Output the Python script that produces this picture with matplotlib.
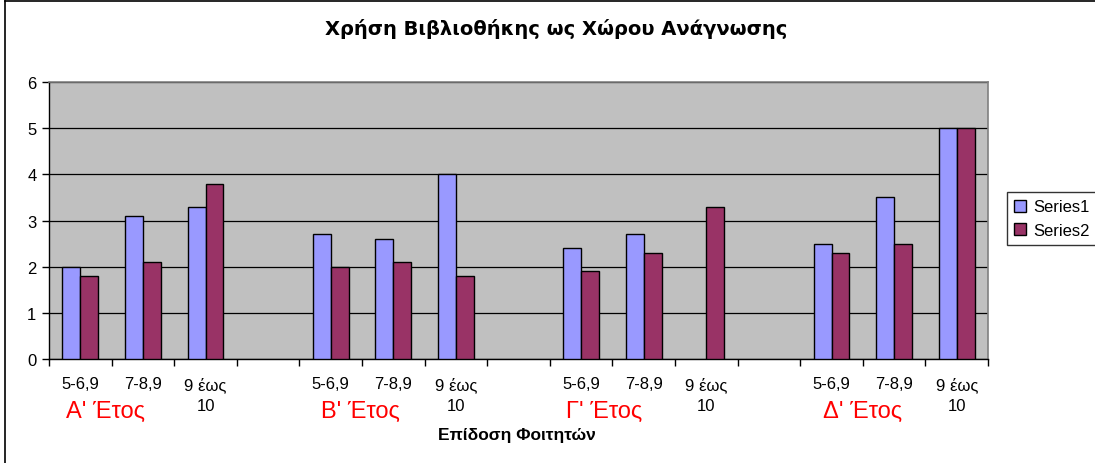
import numpy as np
import matplotlib
matplotlib.use("Agg")
import matplotlib.pyplot as plt
from matplotlib.lines import Line2D

# ── data ──────────────────────────────────────────────────────────────
categories = ["5-6,9", "7-8,9", "9 έως\n10", "",
              "5-6,9", "7-8,9", "9 έως\n10", "",
              "5-6,9", "7-8,9", "9 έως\n10", "",
              "5-6,9", "7-8,9", "9 έως\n10"]
series1 = [2.0, 3.1, 3.3, None,
           2.7, 2.6, 4.0, None,
           2.4, 2.7, None, None,
           2.5, 3.5, 5.0]
series2 = [1.8, 2.1, 3.8, None,
           2.0, 2.1, 1.8, None,
           1.9, 2.3, 3.3, None,
           2.3, 2.5, 5.0]
year_labels = ["Α' Έτος", "Β' Έτος", "Γ' Έτος", "Δ' Έτος"]
series_names = ["Series1", "Series2"]
title = "Χρήση Βιβλιοθήκης ως Χώρου Ανάγνωσης"
xlabel = "Επίδοση Φοιτητών"

# ── style ─────────────────────────────────────────────────────────────
COL1 = "#9999FF"
COL2 = "#993366"
BG = "#C0C0C0"
FONT = ["Liberation Sans", "DejaVu Sans"]
W, H = 1095, 464
FS = 12

s1 = np.array([np.nan if v is None else v for v in series1])
s2 = np.array([np.nan if v is None else v for v in series2])
x = np.arange(len(categories))
bw = 0.285

fig = plt.figure(figsize=(W / 100, H / 100), dpi=100)
ax = fig.add_axes([49 / W, 1 - 360 / H, (988 - 49) / W, (360 - 83) / H])
ax.set_facecolor(BG)

ax.bar(x - bw / 2, s1, bw, color=COL1, edgecolor="black", linewidth=1.0, zorder=3)
ax.bar(x + bw / 2, s2, bw, color=COL2, edgecolor="black", linewidth=1.0, zorder=3)

ax.set_xlim(-0.5, len(categories) - 0.5)
ax.set_ylim(0, 6)
ax.set_yticks(range(7))
ax.yaxis.grid(True, color="black", linewidth=0.9, zorder=1)
ax.set_axisbelow(True)

# tick marks between categories, labels at centres
ax.set_xticks(np.arange(len(categories) + 1) - 0.5)
ax.set_xticklabels([])
ax.set_xticks(x, minor=True)
ax.set_xticklabels(categories, minor=True, fontsize=FS, family=FONT)
for lab in ax.get_xticklabels(minor=True):
    lab.set_linespacing(1.5)
ax.tick_params(axis="x", which="major", direction="out", length=5, width=1)
ax.tick_params(axis="x", which="minor", length=0, pad=12.5)
ax.tick_params(axis="y", direction="out", length=5, width=1, pad=4)
for lab in ax.get_yticklabels():
    lab.set_fontsize(FS)
    lab.set_family(FONT)

for side in ("top", "right"):
    ax.spines[side].set_color("#808080")
    ax.spines[side].set_linewidth(1.2)
for side in ("left", "bottom"):
    ax.spines[side].set_color("black")
    ax.spines[side].set_linewidth(1.0)

# year labels under each group
label_offsets = [0.40, 0.47, 0.37, 0.49]
for i, (lbl, off) in enumerate(zip(year_labels, label_offsets)):
    ax.text(i * 4 + off, -1.13, lbl, color="red", fontsize=17, family=FONT,
            ha="center", va="center", clip_on=False)

fig.text(556 / W, 1 - 29 / H, title, fontsize=14, fontweight="bold",
         family="DejaVu Sans", ha="center", va="center")
fig.text(517 / W, 1 - 436 / H, xlabel, fontsize=12.5, fontweight="bold",
         family=FONT, ha="center", va="center")

handles = [Line2D([], [], marker="s", linestyle="", markersize=8,
                  markerfacecolor=c, markeredgecolor="black")
           for c in (COL1, COL2)]
leg = fig.legend(handles, series_names, loc="upper left",
                 bbox_to_anchor=(1007 / W, 1 - 193 / H), fancybox=False,
                 frameon=True, prop={"family": FONT, "size": FS},
                 handlelength=0.7, handletextpad=0.4, borderpad=0.45,
                 labelspacing=0.5, borderaxespad=0)
leg.get_frame().set_edgecolor("black")
leg.get_frame().set_linewidth(1.0)

# outer chart frame (left and top edges visible)
fig.add_artist(Line2D([5 / W, 5 / W], [0, 1 - 1.5 / H], transform=fig.transFigure,
                      color="black", linewidth=1.2))
fig.add_artist(Line2D([5 / W, 1], [1 - 1.5 / H, 1 - 1.5 / H], transform=fig.transFigure,
                      color="black", linewidth=1.2))

fig.savefig("out.png", dpi=100)
